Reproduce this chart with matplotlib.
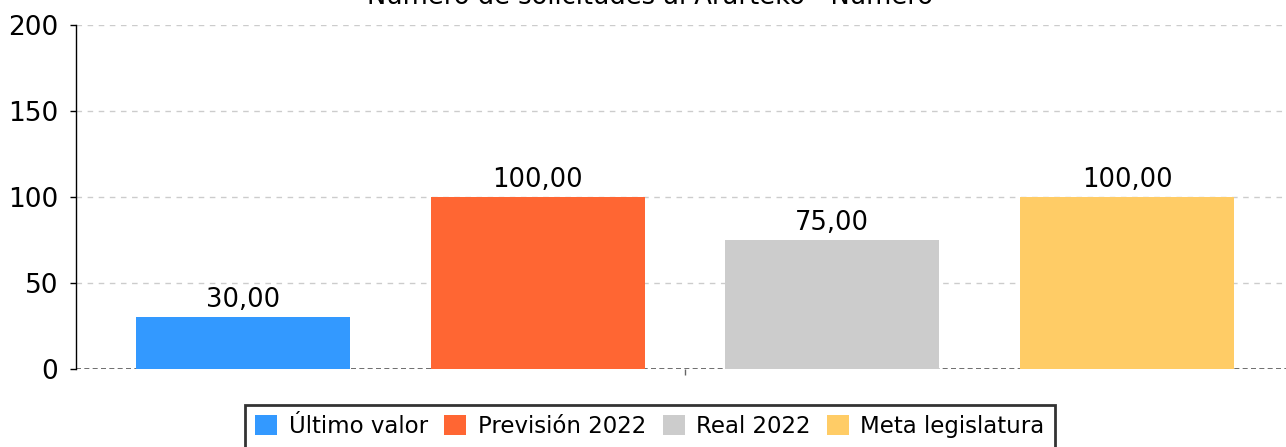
import matplotlib
matplotlib.use("Agg")
import matplotlib.pyplot as plt
import numpy as np

title = "Número de solicitudes al Ararteko - Número"
series = ["Último valor", "Previsión 2022", "Real 2022", "Meta legislatura"]
values = [30.0, 100.0, 75.0, 100.0]
colors = ["#3399FF", "#FF6633", "#CCCCCC", "#FFCC66"]
yticks = [0, 50, 100, 150, 200]

W, H = 1286, 447
fig = plt.figure(figsize=(W / 100, H / 100), dpi=100)
ax = fig.add_axes([76 / W, 1 - 369 / H, (W - 76) / W, 344 / H])

slot = 0.25
bw = slot * 214 / 294.7
offsets = (np.arange(len(series)) - (len(series) - 1) / 2) * slot
for off, v, c, s in zip(offsets, values, colors, series):
    ax.bar(off, v, width=bw, color=c, label=s, zorder=3)
    ax.annotate(f"{v:.2f}".replace(".", ","), (off, v), xytext=(0, 3),
                textcoords="offset points", ha="center", va="bottom",
                fontsize=18.5, color="#000000", zorder=4)

ppu = 294.7 / slot
ax.set_xlim((76 - 685) / ppu, (W - 685) / ppu)
ax.set_ylim(0, 200)
ax.set_yticks(yticks)
ax.tick_params(axis="y", labelsize=19, length=4.3, width=1, color="#000000", pad=8.5)
ax.set_xticks([0])
ax.set_xticklabels([""])
ax.tick_params(axis="x", length=4.5, color="#666666", width=1)

for y in yticks[1:]:
    ax.axhline(y, color="#CCCCCC", linestyle=(0, (4, 4)), linewidth=1, zorder=1)
ax.axhline(0, color="#555555", linestyle=(0, (3, 2)), linewidth=1.2, zorder=2)

for s in ["top", "right", "bottom"]:
    ax.spines[s].set_visible(False)
ax.spines["left"].set_color("#000000")
ax.spines["left"].set_linewidth(1)

fig.text(650 / W, 1 - 4 / H, title, ha="center", va="baseline", fontsize=18.5)

leg = ax.legend(loc="upper center", bbox_to_anchor=(650 / W, 1 - 405 / H),
                bbox_transform=fig.transFigure, ncol=4, frameon=True,
                fontsize=16.5, handlelength=0.96, handleheight=0.96,
                handletextpad=0.5, columnspacing=0.72, borderpad=0.45,
                fancybox=False, borderaxespad=0)
leg.get_frame().set_edgecolor("#000000")
leg.get_frame().set_linewidth(2)

fig.savefig("out.png", dpi=100)
